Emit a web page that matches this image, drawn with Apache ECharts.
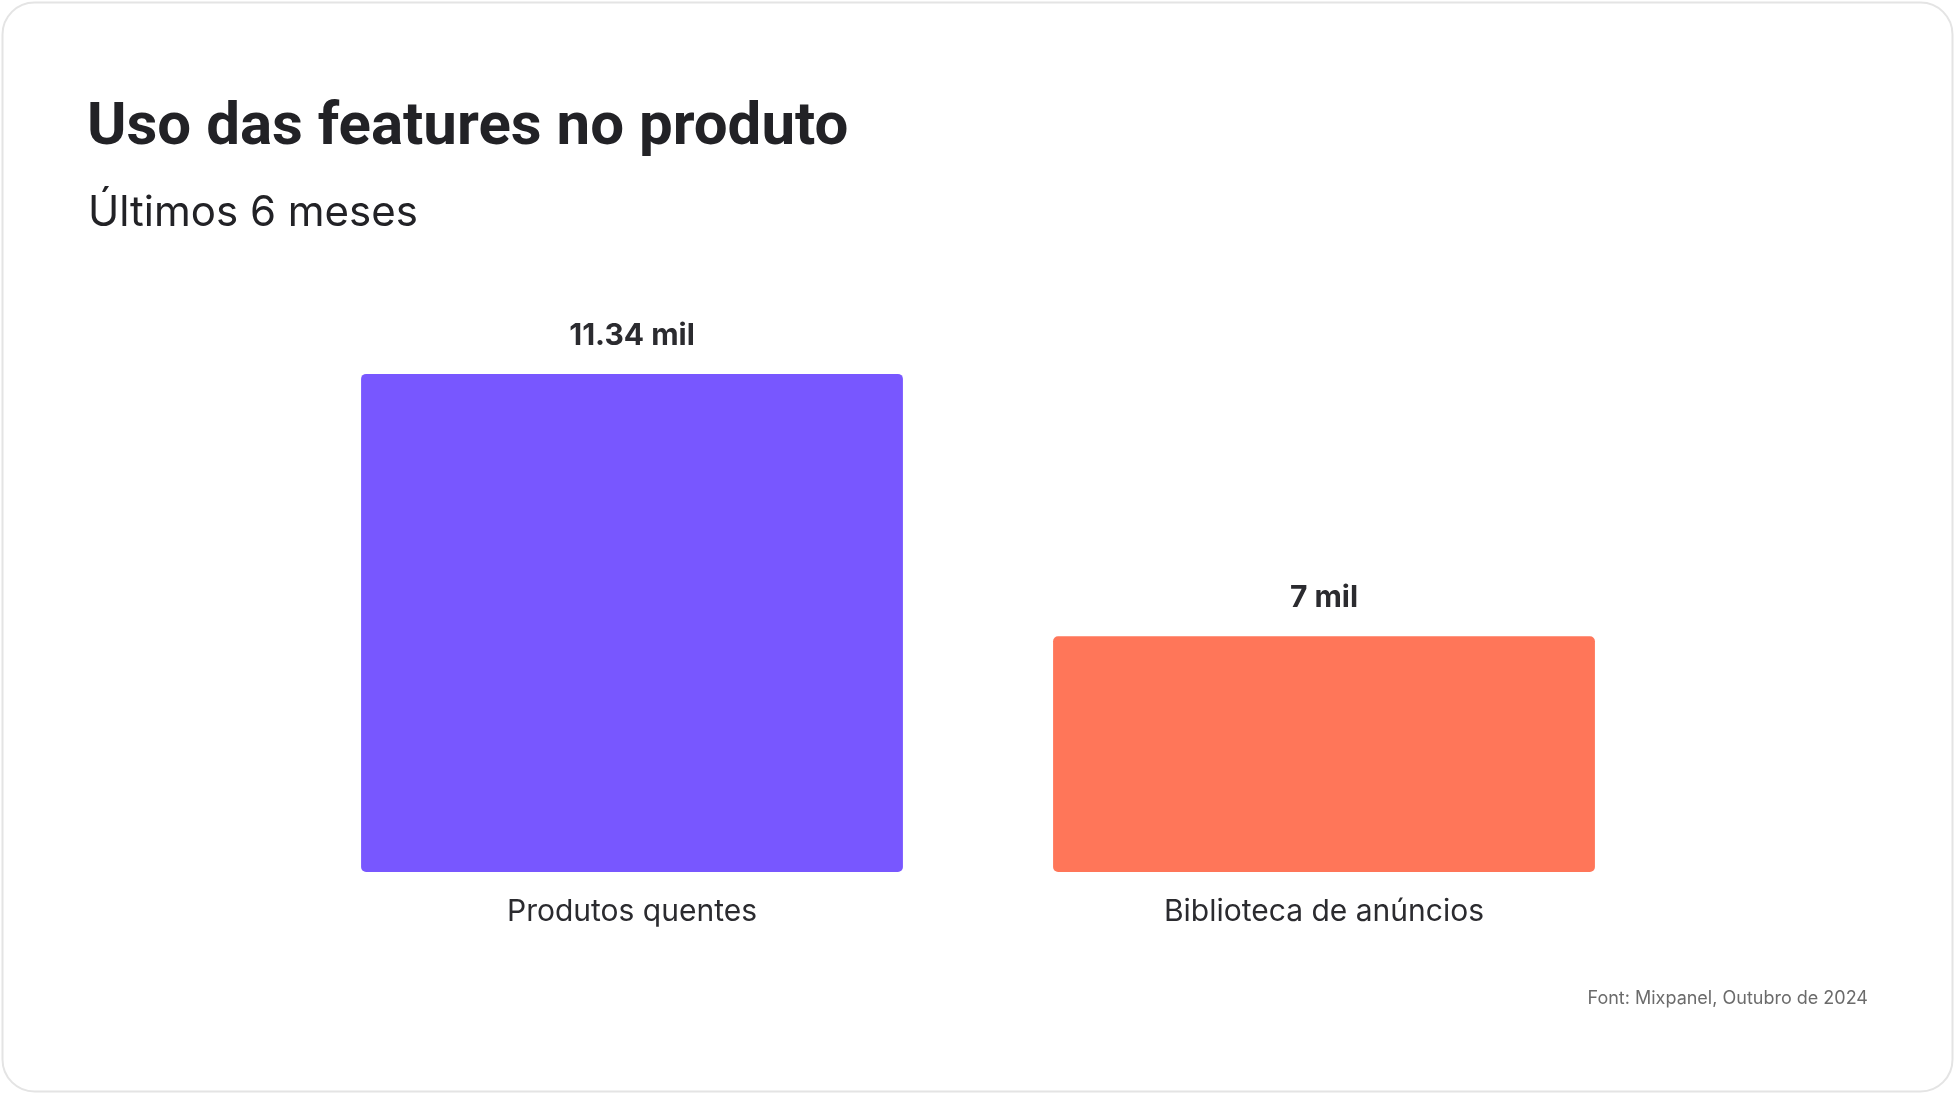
<!DOCTYPE html>
<html>
<head>
<meta charset="utf-8">
<script src="https://cdn.jsdelivr.net/npm/echarts@6/dist/echarts.min.js"></script>
<style>
  html, body { margin: 0; padding: 0; background: #ffffff; }
  #container { width: 1955px; height: 1094px; }
</style>
</head>
<body>
<div id="container"></div>
<script>
var categorias = ['Produtos quentes', 'Biblioteca de anúncios'];
var usos = [11340, 7000];
var cores = ['#7857FF', '#FF7659'];

var chartDom = document.getElementById('container');
var myChart = echarts.init(chartDom);
var option;

option = {
  backgroundColor: '#ffffff',
  title: [
    {
      text: 'Uso das features no produto',
      left: 82,
      top: 94,
      textStyle: { fontFamily: 'Roboto', fontWeight: 'bold', fontSize: 60, color: '#222226' }
    },
    {
      text: 'Últimos 6 meses',
      left: 83,
      top: 187,
      textStyle: { fontFamily: 'Inter', fontWeight: 'normal', fontSize: 42, color: '#222226' }
    },
    {
      text: 'Font: Mixpanel, Outubro de 2024',
      right: 82,
      top: 985,
      textStyle: { fontFamily: 'Inter', fontWeight: 'normal', fontSize: 18, color: '#6b6b6b' }
    }
  ],
  graphic: [
    {
      type: 'rect',
      shape: { x: 2.5, y: 2.5, width: 1950, height: 1089, r: 32 },
      style: { fill: 'none', stroke: '#e4e4e4', lineWidth: 2 },
      silent: true,
      z: -1
    }
  ],
  grid: { left: 286, right: 285, top: 334, bottom: 222 },
  xAxis: {
    type: 'category',
    data: categorias,
    axisLine: { show: false },
    axisTick: { show: false },
    axisLabel: { margin: 25, fontFamily: 'Inter', fontSize: 30, color: '#2b2b2f' }
  },
  yAxis: {
    type: 'value',
    min: 3100,
    max: 12000,
    show: false,
    splitLine: { show: false }
  },
  series: [
    {
      name: 'uso',
      type: 'bar',
      barWidth: '78.3%',
      data: usos.map(function (v, i) {
        return { value: v, itemStyle: { color: cores[i] } };
      }),
      itemStyle: { borderRadius: 5 },
      label: {
        show: true,
        position: 'top',
        distance: 23,
        fontFamily: 'Inter',
        fontWeight: 'bold',
        fontSize: 30,
        color: '#2b2b2f',
        formatter: function (p) { return (p.value / 1000) + ' mil'; }
      }
    }
  ]
};

option && myChart.setOption(option);
</script>
</body>
</html>
